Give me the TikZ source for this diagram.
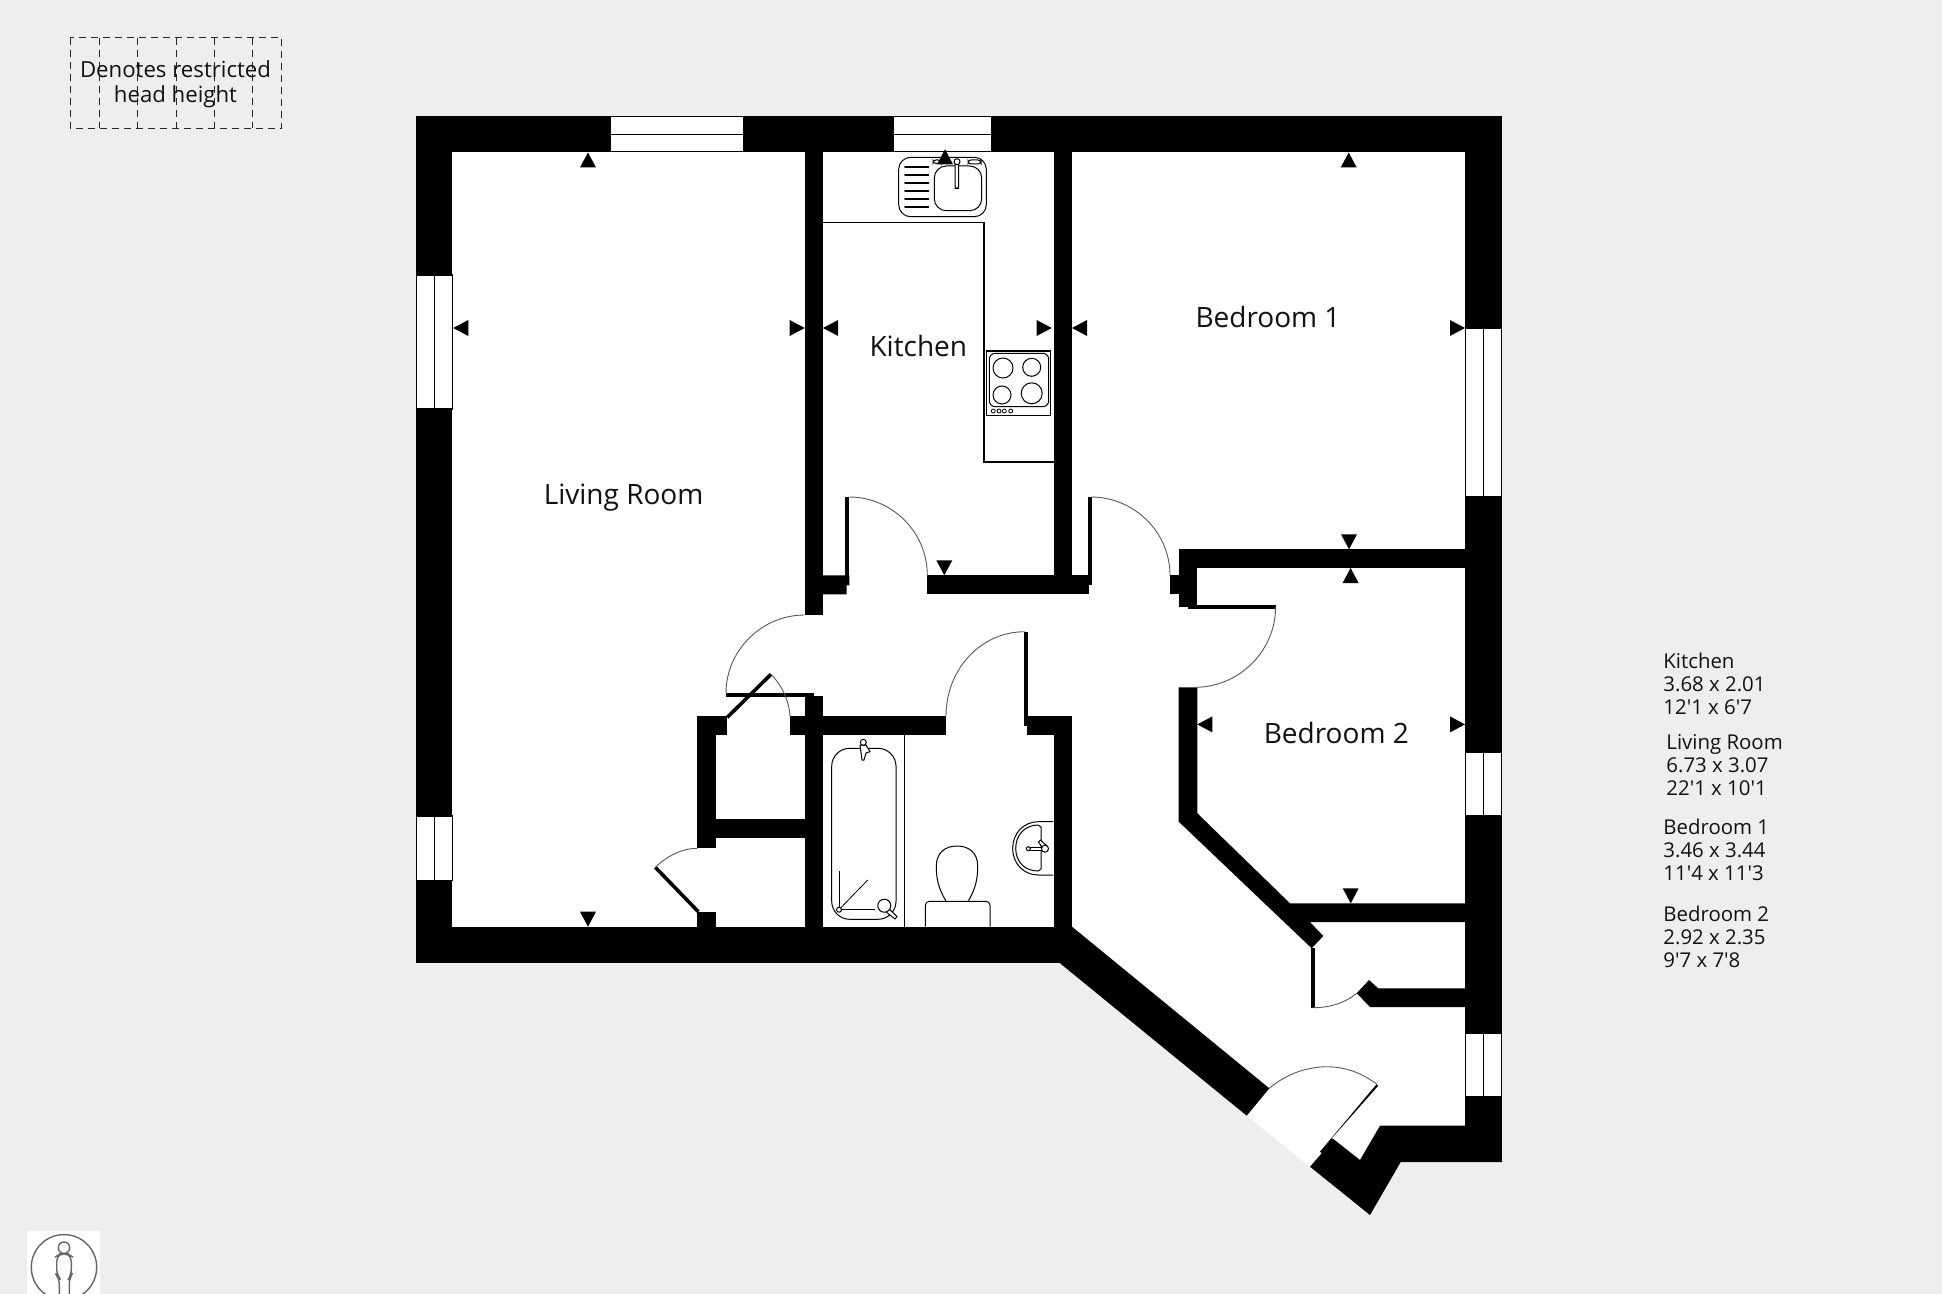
\documentclass[tikz,border=0pt]{standalone}
\usepackage{fontspec}
\newfontfamily\lbl{Open Sans}
\definecolor{bgc}{HTML}{EEEEEE}
\definecolor{txt}{HTML}{111111}
\newcommand\WR[4]{\fill[black] (#1,#2) rectangle (#3,#4);}
\newcommand\tup[2]{\fill[black] (#1,#2) -- ++(-8,15) -- ++(16,0) -- cycle;}
\newcommand\tdn[2]{\fill[black] (#1,#2) -- ++(-8,-15) -- ++(16,0) -- cycle;}
\newcommand\tlf[2]{\fill[black] (#1,#2) -- ++(15,-8) -- ++(0,16) -- cycle;}
\newcommand\trt[2]{\fill[black] (#1,#2) -- ++(-15,-8) -- ++(0,16) -- cycle;}
\newcommand\winv[3]{\draw[winline,fill=white] (#1,#2) rectangle (#1+36,#3); \draw[winline] (#1+18,#2) -- (#1+18,#3);}
\newcommand\winh[3]{\draw[winline,fill=white] (#1,#3) rectangle (#2,#3+35); \draw[winline] (#1,#3+17.5) -- (#2,#3+17.5);}
\tikzset{
  winline/.style={black,line width=0.6pt},
  swing/.style={black!65,line width=0.45pt},
  fit/.style={black,line width=0.5pt},
  room/.style={anchor=base,text=txt,font=\lbl\fontsize{14}{16}\selectfont,inner sep=0pt},
  dim/.style={anchor=base west,text=txt,font=\lbl\fontsize{10.2}{12}\selectfont,inner sep=0pt},
  note/.style={anchor=base,text=txt,font=\lbl\fontsize{11.1}{13}\selectfont,inner sep=0pt},
  dbox/.style={black!85,line width=0.45pt,dash pattern=on 3.6pt off 2.4pt}
}
\begin{document}
\begin{tikzpicture}[x=0.5pt,y=-0.5pt]
\useasboundingbox (0,0) rectangle (1942,1294);
\clip (0,0) rectangle (1942,1294);
\fill[bgc] (0,0) rectangle (1942,1294);
% floor
\fill[white] (416,116.5) -- (1501.7,116.5) -- (1501.7,1162) -- (1400.7,1162) -- (1370,1215) -- (1310,1166.7) -- (1246.7,1115.7) -- (1059.3,962.7) -- (416,962.7) -- cycle;
% outer walls
\WR{416}{116.5}{452}{962.7}
\WR{416}{116.5}{1501.7}{152.5}
\WR{1465}{116.5}{1501.7}{1162}
\WR{416}{926.7}{1072}{962.7}
\fill[black] (1054,926.7) -- (1072,926.7) -- (1269.3,1088.3) -- (1246.7,1115.7) -- (1059.3,962.7) -- (1054,962.7) -- cycle;
\fill[black] (1465,1125.7) -- (1380,1125.7) -- (1360,1160) -- (1333.7,1139.3) -- (1331.7,1138.3) -- (1320,1151.7) -- (1321.7,1153.3) -- (1310,1166.7) -- (1370,1215) -- (1400.7,1162) -- (1501.7,1162) -- (1501.7,1125.7) -- cycle;
% inner walls
\WR{804.7}{152.5}{823}{615}
\WR{1053.7}{152.5}{1072}{594.3}
\WR{927.3}{575.3}{1088.7}{594.3}
\fill[black] (823,575.3) -- (849.3,575.3) -- (849.3,585.3) -- (846.7,585.3) -- (846.7,594.3) -- (823,594.3) -- cycle;
\WR{845.3}{497}{849.3}{585.3}
\WR{1088}{497}{1091.7}{585.3}
\WR{1170}{575.3}{1179}{594.3}
\WR{1178.7}{549.3}{1465}{568}
\WR{1178.7}{549.3}{1197.3}{606.7}
\WR{1187.7}{605}{1275.6}{608.5}
\fill[black] (1178.7,687.3) -- (1197.3,687.3) -- (1197.3,813.3) -- (1290,903.3) -- (1465,903.3) -- (1465,922) -- (1310,922) -- (1323.3,936) -- (1311.7,948.3) -- (1178.7,821.7) -- cycle;
\WR{1311}{948}{1314.7}{1007.7}
\fill[black] (1356.7,993.3) -- (1369,980) -- (1378.3,988.3) -- (1465,988.3) -- (1465,1007) -- (1370,1007) -- cycle;
\WR{726}{693.3}{814}{697.3}
\WR{804.7}{696}{823}{926.7}
\WR{790}{716}{946}{734.7}
\WR{1023.7}{631.7}{1027.7}{726}
\fill[black] (1027,716) -- (1072,716) -- (1072,734.7) -- (1027,734.7) -- cycle;
\WR{1053.7}{716}{1072}{926.7}
\WR{697.3}{716}{716}{848.3}
\WR{697.3}{716}{726.7}{735}
\WR{697.3}{819}{804.7}{838}
\WR{697.3}{912.3}{716}{926.7}
\draw[black,line width=1.8pt] (727.3,717.3) -- (771,674.3);
\draw[black,line width=1.8pt] (698.3,911.7) -- (655.3,867.3);
\fill[black] (1376.7,1084) -- (1378,1086) -- (1331.7,1138.3) -- (1320,1151.7) -- cycle;
% door swings
\draw[swing] (849,497) .. controls (892,497) and (927.3,532) .. (927.3,575.3);
\draw[swing] (1091,497) .. controls (1134,497) and (1170,532) .. (1170,575.3);
\draw[swing] (1275.6,607) .. controls (1275.6,651) and (1239,687.3) .. (1195,687.3);
\draw[swing] (804.7,615) .. controls (762,615) and (726,650) .. (726,693.3);
\draw[swing] (946,716) .. controls (946,670) and (980,631.7) .. (1025,631.7);
\draw[swing] (771,674.3) .. controls (780,683) and (789,699) .. (790,716);
\draw[swing] (655.3,867.3) .. controls (667,856) and (682,848.3) .. (697.3,848.3);
\draw[swing] (1313,1007.7) .. controls (1330,1007.7) and (1345,1003) .. (1356.7,993.3);
\draw[swing] (1376.7,1084) .. controls (1360,1072) and (1345,1067) .. (1326.7,1066.7) .. controls (1305,1067) and (1285,1075) .. (1269.3,1088.3);
% windows
\winv{416.5}{275}{409}
\winv{416.5}{816}{880.5}
\winv{1465.3}{328}{496.6}
\winv{1465.3}{752}{816}
\winv{1465.3}{1033.7}{1097}
\winh{610.6}{743.7}{116.7}
\winh{893.7}{991.7}{116.7}
% kitchen
\draw[fit,line width=0.7pt] (823,222.7) -- (984,222.7) -- (984,462) -- (1053.7,462);
\draw[fit,rounded corners=6] (898.7,157.3) rectangle (986.3,216.7);
\draw[fit,rounded corners=6] (934.3,166) rectangle (981.7,210.7);
\foreach \yy in {167,175,183,191,199,207}{\draw[black,line width=0.8pt,line cap=round] (905,\yy) -- (928.5,\yy);}
\draw[fit,fill=white,rounded corners=1] (955,161.7) rectangle (958.7,188.3);
\draw[fit,fill=white] (957,161.7) circle[radius=3];
\draw[fit,rounded corners=1.5] (933,160) rectangle (941,163.5);
\draw[fit,rounded corners=1.5] (968,160) rectangle (981,164);
\draw[fit,line width=0.7pt] (986.3,351) rectangle (1050.7,415.7);
\draw[fit,rounded corners=3] (989.3,353.3) rectangle (1048.7,406.7);
\draw[fit] (1003,368) circle[radius=10];
\draw[fit] (1031.7,367.3) circle[radius=9];
\draw[fit] (1002,395) circle[radius=9];
\draw[fit] (1031.7,393.3) circle[radius=10.5];
\foreach \xx in {993.3,999,1004.3,1010.7}{\draw[fit,line width=0.4pt] (\xx,411) circle[radius=2];}
% bathroom
\draw[fit] (904.3,734.7) -- (904.3,926.7);
\draw[fit,rounded corners=9] (831.7,748.3) rectangle (896,919.3);
\draw[fit,fill=white] (860,745) -- (866,745) -- (870,751.7) -- (866,753) -- (864,760) -- (862,760) -- cycle;
\draw[fit,fill=white] (863.3,742.3) circle[radius=3];
\draw[fit] (839,871) -- (839,909.7) -- (875.3,909.7);
\draw[fit,line width=0.4pt] (839,909.7) -- (867.7,880);
\draw[fit,fill=white] (839,909.7) circle[radius=2.5];
\draw[fit,fill=white] (888,908) -- (897,916.5) -- (895,919) -- (885,911) -- cycle;
\draw[fit,fill=white] (884.3,905.7) circle[radius=6.5];
\draw[fit] (946,901) .. controls (938,888) and (936.3,878) .. (936.3,866) .. controls (936.3,853) and (945,846) .. (957,846) .. controls (969,846) and (977.7,853) .. (977.7,866) .. controls (977.7,878) and (976,888) .. (968.3,901);
\draw[fit,rounded corners=2] (925.3,926.7) -- (925.3,901.3) -- (990,901.3) -- (990,926.7);
\draw[fit] (1053.3,821.7) -- (1038.3,821.7) .. controls (1024,821.7) and (1012.7,833) .. (1012.7,848.3) .. controls (1012.7,864) and (1024,875) .. (1038.3,875) -- (1053.3,875);
\draw[fit] (1038,825) .. controls (1025,825) and (1015.7,835) .. (1015.7,848.3) .. controls (1015.7,862) and (1025,871) .. (1038,871) -- (1041,869) -- (1041,827) -- cycle;
\draw[fit,fill=white] (1028.3,847.2) rectangle (1043,850);
\draw[fit,fill=white] (1028.3,848.7) circle[radius=2];
\draw[fit,fill=white] (1038.5,842) -- (1040.5,840) -- (1047,846) -- (1044,850) -- cycle;
\draw[fit,fill=white] (1045,848.7) circle[radius=3.5];
% markers
\tup{588}{152.5}
\tlf{453.3}{328}
\trt{804.7}{328}
\tdn{588}{926.7}
\tlf{823}{328}
\trt{1051.7}{328}
\tdn{944.3}{575.3}
\tup{945}{149.3}
\tlf{1072}{328}
\tup{1348.7}{152.5}
\trt{1465}{328}
\tdn{1349}{549.3}
\tup{1350.6}{568}
\tlf{1197.3}{724.4}
\trt{1465}{724.4}
\tdn{1350.7}{903.3}
% room labels
\node[room] (lroom) at (623.6,504) {Living Room};
\node[room] (kroom) at (918.3,356.5) {Kitchen};
\node[room] (broom1) at (1268,328) {Bedroom 1};
\node[room] (broom2) at (1336.3,743) {Bedroom 2};
% dimensions
\node[dim] (k1) at (1663,668) {Kitchen};
\node[dim] (k2) at (1663,691) {3.68 x 2.01};
\node[dim] (k3) at (1663,714) {12'1 x 6'7};
\node[dim] (l1) at (1666,749) {Living Room};
\node[dim] (l2) at (1666,772) {6.73 x 3.07};
\node[dim] (l3) at (1666,795) {22'1 x 10'1};
\node[dim] (b1) at (1663,834) {Bedroom 1};
\node[dim] (b2) at (1663,857) {3.46 x 3.44};
\node[dim] (b3) at (1663,880) {11'4 x 11'3};
\node[dim] (c1) at (1663,921) {Bedroom 2};
\node[dim] (c2) at (1663,944) {2.92 x 2.35};
\node[dim] (c3) at (1663,967) {9'7 x 7'8};
% restricted key
\draw[dbox] (70.3,37.7) rectangle (281.7,128.3);
\foreach \xx in {99,137.7,176.3,214,252.7}{\draw[dbox] (\xx,37.7) -- (\xx,128.3);}
\node[note] (n1) at (175.5,77.5) {Denotes restricted};
\node[note] (n2) at (175.5,102.5) {head height};
% person icon
\fill[white] (27.3,1231) rectangle (100,1294);
\draw[black!60,line width=0.7pt] (64,1267.3) circle[radius=32.7];
\draw[black!60,line width=0.7pt] (64,1247.7) circle[radius=5.7];
\draw[black!60,line width=0.7pt,rounded corners=3] (59.3,1294) -- (59.3,1278) -- (56.7,1275) -- (56.7,1256) -- (60,1254) -- (68,1254) -- (71.3,1256) -- (71.3,1275) -- (69.3,1278) -- (69.3,1294);
\end{tikzpicture}
\end{document}
